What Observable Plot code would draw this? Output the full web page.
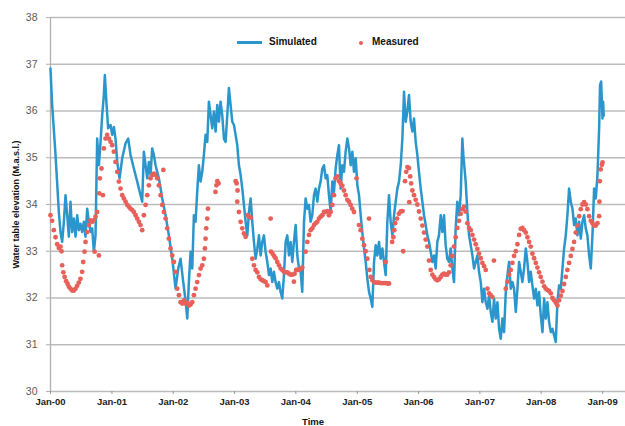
<!DOCTYPE html>
<html>
<head>
<meta charset="utf-8">
<script src="https://cdn.jsdelivr.net/npm/d3@7"></script>
<script src="https://cdn.jsdelivr.net/npm/@observablehq/plot@0.6"></script>
<style>
  html, body { margin: 0; padding: 0; background: #fff; }
  #wrap { position: relative; width: 625px; height: 426px; font-family: "Liberation Sans", Arial, sans-serif; }
  #wrap svg { position: absolute; left: 0; top: 0; }
  .ov { position: absolute; font-weight: bold; color: #111; white-space: nowrap; line-height: 1; }
</style>
</head>
<body>
<div id="wrap"></div>
<script>
// ---- data (time in years since Jan 2000, levels in m a.s.l.) ----
const baseYear = 2000;
const simT = [0.000,0.027,0.082,0.136,0.163,0.190,0.218,0.245,0.272,0.299,0.326,0.353,0.381,0.408,0.435,0.462,0.489,0.516,0.544,0.571,0.598,0.625,0.653,0.680,0.707,0.734,0.761,0.789,0.816,0.843,0.870,0.886,0.914,0.940,0.979,1.006,1.033,1.060,1.088,1.126,1.169,1.224,1.267,1.305,1.359,1.414,1.468,1.495,1.522,1.550,1.577,1.604,1.631,1.658,1.686,1.713,1.767,1.822,1.876,1.930,1.985,2.039,2.083,2.120,2.158,2.202,2.230,2.256,2.284,2.311,2.338,2.365,2.392,2.419,2.447,2.474,2.501,2.528,2.556,2.583,2.610,2.637,2.664,2.692,2.719,2.746,2.773,2.800,2.828,2.855,2.882,2.909,2.936,2.964,2.991,3.018,3.045,3.072,3.100,3.127,3.154,3.181,3.209,3.236,3.263,3.290,3.317,3.344,3.372,3.399,3.426,3.453,3.480,3.507,3.535,3.562,3.589,3.616,3.643,3.670,3.698,3.725,3.752,3.779,3.806,3.834,3.861,3.888,3.915,3.942,3.969,3.997,4.024,4.051,4.078,4.105,4.133,4.160,4.187,4.214,4.241,4.268,4.296,4.323,4.350,4.377,4.404,4.432,4.459,4.486,4.513,4.540,4.568,4.595,4.622,4.649,4.677,4.703,4.731,4.758,4.785,4.812,4.840,4.867,4.894,4.921,4.948,4.976,5.003,5.030,5.057,5.084,5.112,5.139,5.166,5.193,5.220,5.247,5.275,5.302,5.329,5.356,5.383,5.411,5.438,5.465,5.492,5.519,5.546,5.574,5.601,5.628,5.655,5.682,5.710,5.737,5.764,5.791,5.818,5.845,5.873,5.900,5.927,5.954,5.981,6.008,6.036,6.063,6.090,6.117,6.144,6.171,6.199,6.226,6.253,6.280,6.307,6.334,6.362,6.389,6.416,6.443,6.470,6.498,6.525,6.552,6.579,6.606,6.633,6.661,6.688,6.715,6.731,6.769,6.797,6.824,6.852,6.879,6.906,6.933,6.960,6.987,7.015,7.042,7.069,7.096,7.124,7.151,7.178,7.205,7.232,7.259,7.287,7.314,7.341,7.368,7.395,7.423,7.450,7.477,7.504,7.531,7.558,7.586,7.613,7.640,7.667,7.694,7.721,7.749,7.776,7.803,7.830,7.857,7.885,7.912,7.939,7.966,7.993,8.021,8.048,8.075,8.102,8.129,8.157,8.184,8.211,8.238,8.265,8.292,8.320,8.347,8.374,8.401,8.428,8.455,8.483,8.510,8.537,8.564,8.591,8.619,8.646,8.673,8.700,8.727,8.754,8.782,8.809,8.836,8.863,8.890,8.918,8.945,8.960,8.978,9.000,9.010,9.020];
const simLevel = [36.91,36.13,35.06,33.84,33.41,33.20,33.63,34.20,33.77,33.31,34.06,33.41,33.70,33.31,33.77,33.45,33.59,33.41,33.63,33.31,33.91,33.63,33.41,33.49,32.99,33.34,35.41,34.84,35.34,35.91,36.34,36.77,36.13,35.63,35.70,35.49,35.66,35.41,34.91,34.56,34.99,35.31,35.41,35.06,34.77,34.49,34.20,34.06,35.13,34.84,34.56,34.91,34.63,35.20,35.06,34.84,34.56,34.13,33.77,33.34,32.84,32.20,32.63,32.84,32.41,31.95,31.56,32.34,32.99,32.63,33.77,33.63,34.27,34.84,34.49,34.70,35.06,35.49,35.34,36.20,35.91,35.63,35.99,35.56,36.13,35.77,36.20,35.91,35.41,35.34,35.91,36.49,36.13,35.77,35.70,35.49,35.27,34.84,34.63,34.34,33.99,33.63,33.34,33.84,34.13,33.63,33.20,32.84,33.06,33.34,32.91,33.20,33.34,32.99,32.77,32.49,32.63,32.34,32.56,32.34,32.20,32.34,32.13,31.99,32.49,33.20,33.34,32.91,33.20,32.77,33.20,33.56,32.91,32.63,32.56,32.13,33.63,34.13,33.91,33.99,33.63,33.77,34.20,34.34,34.06,34.34,34.49,34.77,34.84,34.56,34.63,34.20,33.84,34.49,34.27,34.77,35.06,35.27,34.34,34.84,34.70,35.13,35.41,35.20,34.84,35.13,34.70,34.99,34.41,34.20,33.77,33.41,33.06,32.77,32.41,32.13,31.99,31.81,32.77,33.13,32.91,33.20,32.84,33.06,32.77,32.49,33.63,34.20,33.63,33.34,33.77,34.06,34.34,34.49,34.84,35.41,36.41,35.77,35.99,36.34,35.77,35.56,35.84,35.34,35.06,34.70,34.34,34.06,33.77,33.56,33.34,33.20,32.99,32.77,32.91,32.63,33.20,33.34,33.77,33.41,33.77,33.13,32.84,32.77,33.06,32.63,32.34,33.49,34.06,33.77,34.20,35.41,35.06,34.49,33.84,33.34,33.13,32.91,32.63,32.77,32.91,32.56,32.34,31.91,32.20,31.91,31.77,32.06,31.70,31.49,31.99,31.56,31.91,31.34,31.13,31.56,31.27,32.13,32.49,32.77,32.20,32.34,32.20,31.70,32.20,32.77,32.56,32.34,32.63,33.06,32.77,32.34,32.56,32.27,31.99,32.20,31.84,32.13,31.63,31.27,31.99,31.56,31.91,31.49,31.27,31.34,31.20,31.06,31.91,32.27,32.20,32.63,33.06,33.34,33.77,34.34,34.06,33.91,33.56,33.70,33.34,33.63,33.27,33.63,33.77,33.49,33.34,32.91,32.63,33.34,34.34,34.13,34.63,35.63,36.56,36.63,35.84,36.20,35.90];

const measT = [0.000,0.027,0.054,0.082,0.109,0.136,0.163,0.180,0.190,0.210,0.230,0.255,0.280,0.300,0.326,0.353,0.381,0.408,0.435,0.462,0.489,0.516,0.533,0.555,0.571,0.598,0.625,0.653,0.680,0.707,0.720,0.734,0.761,0.789,0.795,0.805,0.832,0.854,0.870,0.897,0.924,0.952,0.979,1.006,1.033,1.060,1.088,1.115,1.142,1.169,1.196,1.224,1.251,1.278,1.305,1.332,1.359,1.387,1.414,1.441,1.468,1.495,1.522,1.550,1.577,1.604,1.631,1.658,1.686,1.713,1.740,1.767,1.795,1.822,1.840,1.849,1.876,1.903,1.930,1.958,1.985,2.012,2.039,2.066,2.094,2.121,2.148,2.175,2.202,2.230,2.257,2.284,2.311,2.338,2.365,2.392,2.420,2.447,2.474,2.501,2.518,2.528,2.539,2.556,2.567,2.690,2.705,2.720,2.740,3.020,3.035,3.045,3.050,3.072,3.100,3.127,3.154,3.181,3.209,3.236,3.263,3.290,3.317,3.344,3.372,3.399,3.426,3.453,3.480,3.507,3.535,3.589,3.595,3.620,3.645,3.670,3.698,3.725,3.752,3.779,3.806,3.834,3.861,3.888,3.915,3.942,3.969,3.980,4.005,4.024,4.051,4.078,4.105,4.160,4.187,4.214,4.241,4.268,4.296,4.323,4.350,4.377,4.404,4.432,4.459,4.486,4.513,4.540,4.568,4.595,4.622,4.649,4.677,4.704,4.731,4.758,4.785,4.812,4.840,4.867,4.894,4.921,4.948,4.990,5.030,5.057,5.084,5.112,5.139,5.166,5.193,5.200,5.220,5.247,5.275,5.302,5.329,5.356,5.383,5.411,5.438,5.465,5.470,5.492,5.519,5.570,5.590,5.605,5.620,5.650,5.680,5.710,5.740,5.750,5.780,5.800,5.820,5.845,5.850,5.865,5.880,5.900,5.927,5.954,5.981,6.008,6.036,6.063,6.090,6.117,6.144,6.171,6.199,6.226,6.253,6.280,6.307,6.334,6.362,6.389,6.416,6.443,6.470,6.498,6.525,6.552,6.579,6.606,6.633,6.661,6.688,6.715,6.742,6.769,6.797,6.824,6.852,6.879,6.906,6.933,6.960,6.987,7.015,7.042,7.069,7.096,7.124,7.151,7.178,7.205,7.230,7.423,7.450,7.477,7.504,7.531,7.558,7.586,7.613,7.640,7.667,7.694,7.721,7.749,7.776,7.803,7.830,7.857,7.885,7.912,7.939,7.966,7.993,8.021,8.048,8.075,8.102,8.129,8.157,8.184,8.211,8.238,8.265,8.292,8.320,8.347,8.374,8.401,8.428,8.455,8.483,8.510,8.537,8.564,8.591,8.619,8.646,8.673,8.700,8.727,8.754,8.782,8.809,8.836,8.863,8.890,8.918,8.945,8.950,8.955,8.970,8.990,9.000];
const measLevel = [33.77,33.65,33.45,33.30,33.15,33.07,33.10,33.00,32.70,32.55,32.45,32.36,32.30,32.24,32.20,32.16,32.16,32.20,32.26,32.33,32.41,32.56,32.77,32.99,33.20,33.41,33.56,33.66,33.63,33.66,32.99,33.74,33.84,32.91,34.24,34.56,34.77,34.20,35.20,35.41,35.49,35.41,35.34,35.27,35.13,34.91,34.70,34.49,34.34,34.20,34.13,34.06,33.99,33.95,33.91,33.88,33.84,33.77,33.70,33.63,33.56,33.45,33.77,33.99,34.20,34.41,34.56,34.63,34.66,34.63,34.56,34.41,34.20,33.99,34.74,33.84,33.70,33.49,33.27,33.06,32.91,32.77,32.56,32.20,32.06,31.91,31.88,31.95,31.88,31.90,31.84,31.86,31.91,32.06,32.20,32.34,32.49,32.63,32.70,32.84,33.06,33.27,33.49,33.70,33.91,34.27,34.41,34.50,34.45,34.50,34.45,34.06,34.30,33.84,33.63,33.49,33.38,33.31,33.77,33.74,33.72,32.84,32.70,32.60,32.55,32.45,32.40,32.38,32.36,32.34,32.27,33.70,32.99,32.95,32.90,32.85,32.77,32.70,32.63,32.60,32.56,32.55,32.55,32.52,32.50,32.50,32.35,32.52,32.60,32.60,32.60,32.62,32.65,32.99,33.20,33.35,33.45,33.49,33.56,33.60,33.63,33.70,33.74,33.77,33.84,33.84,33.86,33.77,33.84,33.99,34.20,34.56,34.60,34.50,34.45,34.40,34.30,34.20,34.10,34.06,33.99,33.91,33.84,34.56,33.56,33.45,33.27,33.13,33.00,32.84,33.70,32.60,32.45,32.38,32.34,32.33,32.33,32.33,32.32,32.32,32.32,32.77,32.32,32.31,32.31,33.20,33.30,33.45,33.60,33.70,33.80,33.85,33.86,33.00,34.50,34.70,34.80,34.78,34.05,34.60,34.45,34.30,34.20,34.10,34.00,33.85,33.70,33.55,33.40,33.25,33.10,32.80,32.60,32.50,32.45,32.40,32.38,32.40,32.45,32.50,32.52,32.50,32.50,32.55,32.70,32.90,33.10,33.30,33.50,33.65,33.80,33.90,33.95,33.85,33.60,33.50,33.45,33.35,33.25,33.15,33.05,32.95,32.85,32.75,32.68,32.60,32.20,32.10,32.06,32.02,32.80,32.20,32.35,32.50,32.60,32.75,32.90,33.00,33.15,33.35,33.48,33.50,33.45,33.40,33.30,33.20,33.10,32.95,32.85,32.75,32.65,32.55,32.45,32.35,32.25,32.20,32.17,32.15,32.10,32.00,31.95,31.90,31.84,31.95,32.05,32.15,32.30,32.45,32.60,32.75,32.90,33.05,33.20,33.40,33.55,33.75,33.90,34.00,34.05,34.00,33.90,33.75,33.65,33.60,33.55,33.55,33.60,33.75,34.06,34.50,34.75,34.85,34.90];

const yTicks = [30, 31, 32, 33, 34, 35, 36, 37, 38];
const xTickYears = [2000, 2001, 2002, 2003, 2004, 2005, 2006, 2007, 2008, 2009];
const seriesNames = ["Simulated", "Measured"];
const yLabel = "Water table elevation (M.a.s.l.)";
const xLabel = "Time";
const xEndOffset = 9.375; // axis extends a little past Jan-09

const blue = "#2b96cc";
const red = "#e8605a";

const toDate = t => new Date(Date.UTC(baseYear, 0, 1) + t * 365.25 * 86400000);
const sim = simT.map((t, i) => ({date: toDate(t), level: simLevel[i]}));
const meas = measT.map((t, i) => ({date: toDate(t), level: measLevel[i]}));
const xTicks = xTickYears.map(y => new Date(Date.UTC(y, 0, 1)));
const xStart = toDate(0);

const chart = Plot.plot({
  width: 625,
  height: 426,
  marginLeft: 50,
  marginRight: 0,
  marginTop: 17,
  marginBottom: 35,
  style: {fontFamily: "'Liberation Sans', Arial, sans-serif", background: "white", overflow: "visible"},
  x: {type: "utc", domain: [xStart, toDate(xEndOffset)]},
  y: {domain: [30, 38]},
  marks: [
    Plot.gridY(yTicks, {stroke: "#bcbcbc", strokeOpacity: 1, strokeWidth: 1.3}),
    Plot.ruleX([xStart], {stroke: "#b0b0b0", strokeWidth: 1.3}),
    Plot.axisY(yTicks, {tickSize: 4, tickPadding: 9, stroke: "#b0b0b0", fill: "#5a5a5a", fontSize: 10.5,
      label: yLabel, labelAnchor: "center", labelOffset: 38, labelArrow: "none"}),
    Plot.axisX(xTicks, {tickSize: 3, tickPadding: 4, stroke: "#999", fill: "#222", fontSize: 9.5, fontWeight: "bold",
      tickFormat: d => "Jan-" + String(d.getUTCFullYear()).slice(2), label: null}),
    Plot.line(sim, {x: "date", y: "level", stroke: blue, strokeWidth: 2.5, strokeLinejoin: "round"}),
    Plot.dot(meas, {x: "date", y: "level", r: 2.4, fill: red, stroke: "none"})
  ]
});

const wrap = document.getElementById("wrap");
wrap.appendChild(chart);

// style the y-axis title (bold, black)
d3.select(chart).selectAll('[aria-label="y-axis label"]')
  .attr("fill", "#111").attr("font-weight", "bold").attr("font-size", 9)
  .style("font-weight", "bold").style("font-size", "9px").style("fill", "#111");
d3.select(chart).selectAll('[aria-label="y-axis label"] text')
  .attr("fill", "#111").attr("font-weight", "bold").attr("font-size", 9);

// legend and x title (HTML overlays)
function ov(html, css) {
  const d = document.createElement("div");
  d.className = "ov";
  d.innerHTML = html;
  Object.assign(d.style, css);
  wrap.appendChild(d);
  return d;
}
ov("", {left: "237px", top: "41px", width: "25px", height: "2.6px", background: blue});
ov(seriesNames[0], {left: "269px", top: "37px", fontSize: "10px"});
ov("", {left: "359px", top: "41px", width: "4.2px", height: "4.2px", borderRadius: "50%", background: red});
ov(seriesNames[1], {left: "372px", top: "37px", fontSize: "10px"});
ov(xLabel, {left: "302px", top: "417px", fontSize: "9.5px"});
</script>
</body>
</html>
